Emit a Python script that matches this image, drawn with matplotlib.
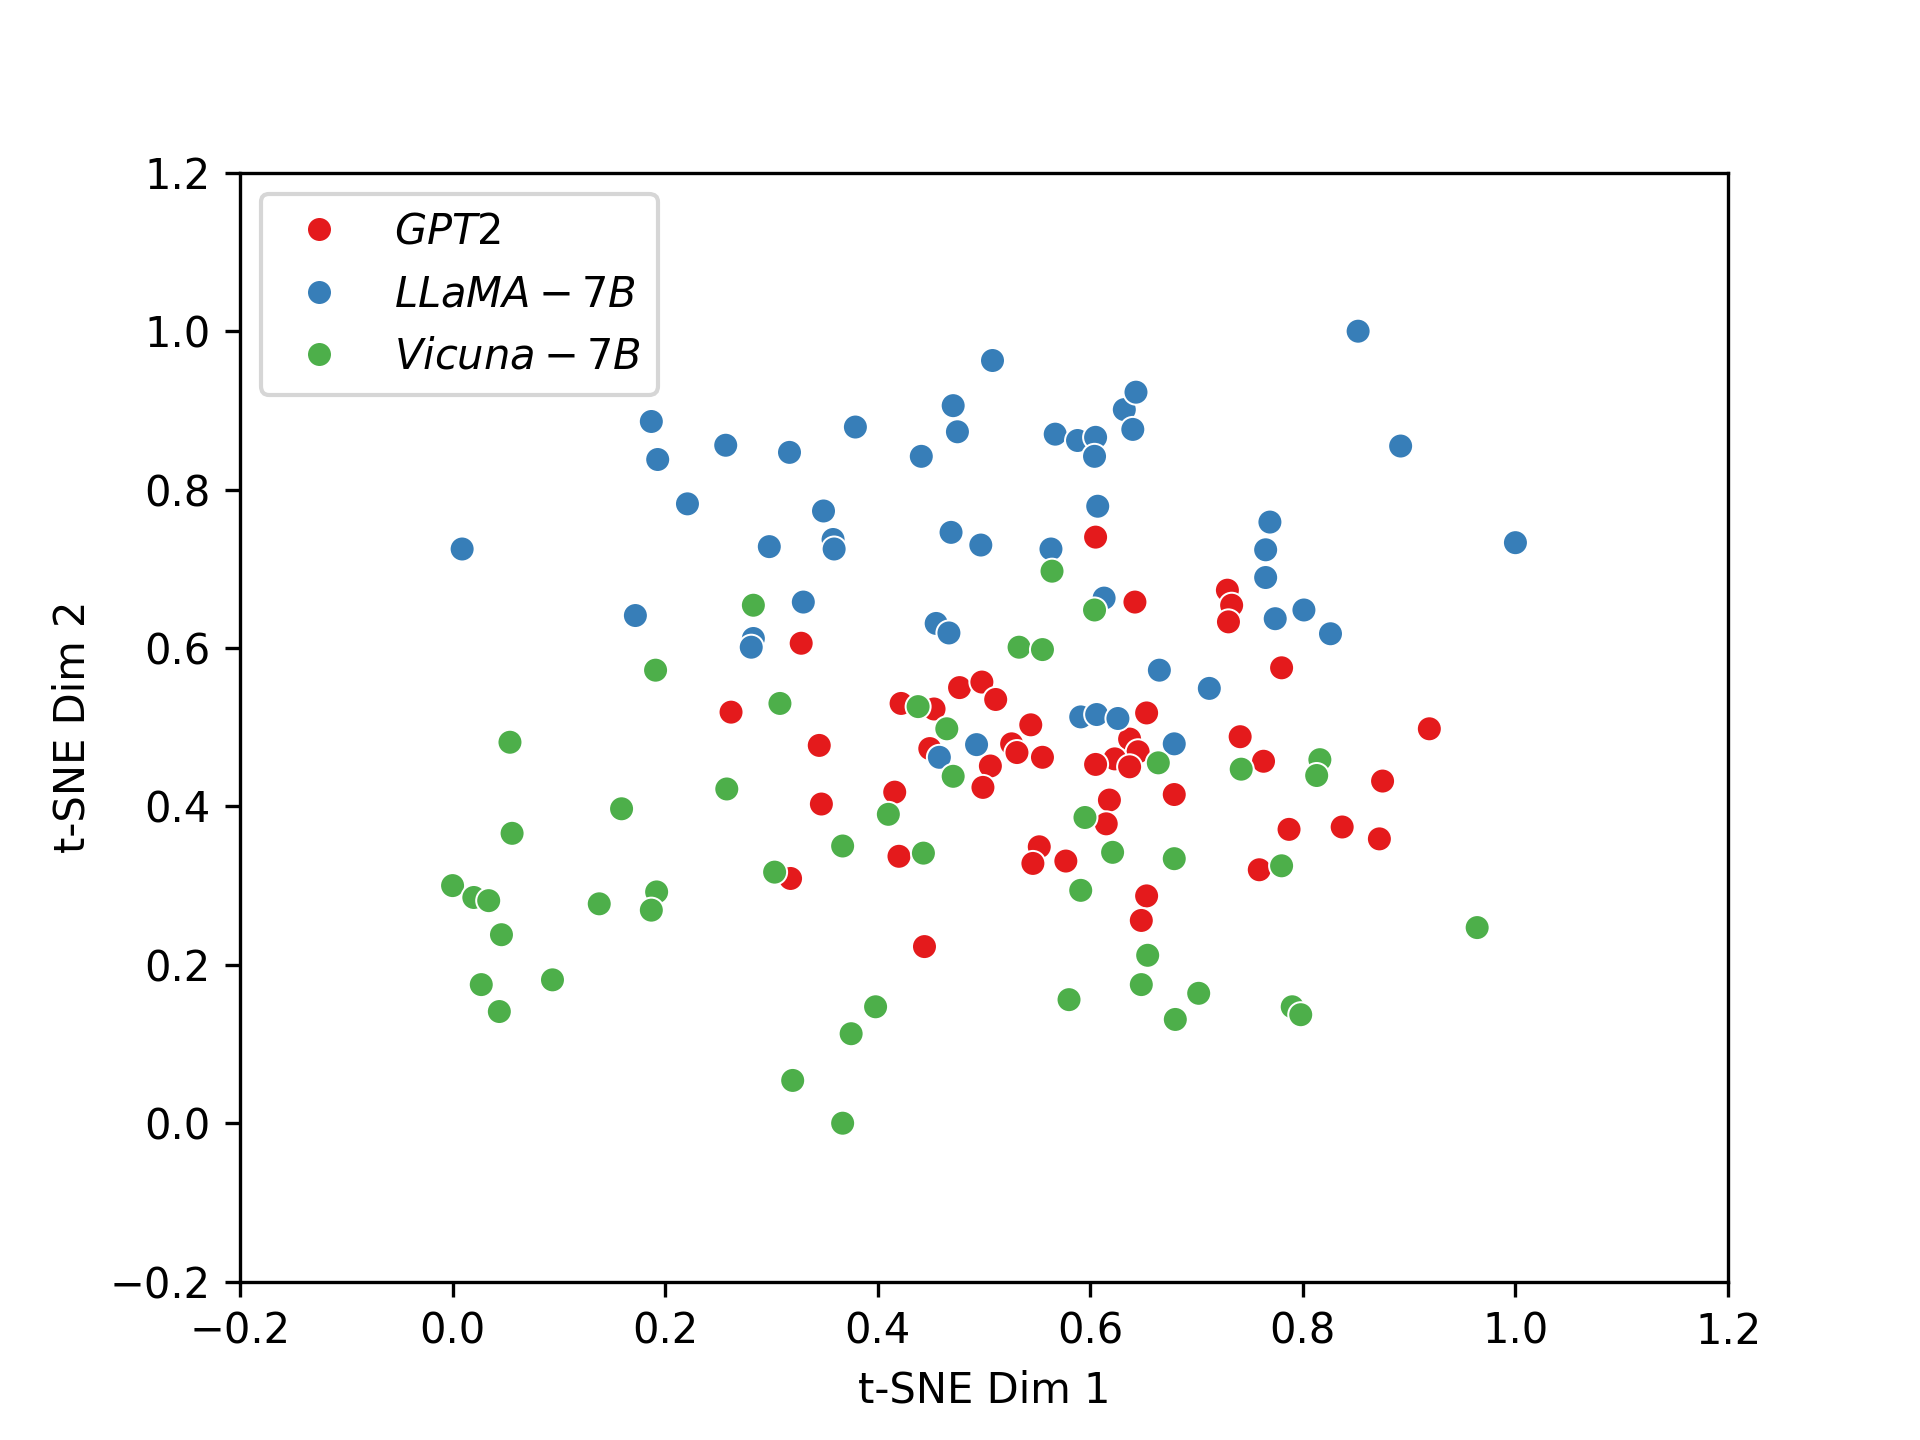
import numpy as np
import pandas as pd
import matplotlib
matplotlib.use("Agg")
import matplotlib.pyplot as plt
import seaborn as sns

# t-SNE 좌표 (0~1 정규화) - 그림에서 읽은 값
gpt2_x = [0.605, 0.642, 0.729, 0.733, 0.730, 0.780, 0.328, 0.262, 0.477, 0.498,
          0.511, 0.422, 0.453, 0.544, 0.653, 0.449, 0.526, 0.531, 0.555, 0.637,
          0.645, 0.623, 0.605, 0.637, 0.506, 0.499, 0.345, 0.347, 0.416, 0.679,
          0.618, 0.615, 0.741, 0.763, 0.919, 0.875, 0.787, 0.837, 0.872, 0.759,
          0.420, 0.318, 0.552, 0.546, 0.577, 0.653, 0.648, 0.444]
gpt2_y = [0.740, 0.658, 0.673, 0.654, 0.633, 0.575, 0.606, 0.519, 0.550, 0.557,
          0.535, 0.530, 0.523, 0.503, 0.518, 0.473, 0.479, 0.468, 0.462, 0.485,
          0.469, 0.460, 0.453, 0.450, 0.451, 0.424, 0.477, 0.403, 0.418, 0.415,
          0.408, 0.378, 0.488, 0.457, 0.498, 0.432, 0.371, 0.374, 0.359, 0.320,
          0.337, 0.309, 0.349, 0.328, 0.331, 0.287, 0.256, 0.223]

llama_x = [0.009, 0.172, 0.187, 0.193, 0.221, 0.257, 0.283, 0.281, 0.298, 0.317,
           0.330, 0.349, 0.358, 0.359, 0.379, 0.441, 0.469, 0.471, 0.475, 0.455,
           0.467, 0.497, 0.508, 0.493, 0.458, 0.563, 0.567, 0.588, 0.605, 0.604,
           0.632, 0.643, 0.640, 0.607, 0.613, 0.665, 0.591, 0.606, 0.626, 0.679,
           0.712, 0.769, 0.765, 0.765, 0.774, 0.801, 0.826, 0.852, 0.892, 1.000]
llama_y = [0.725, 0.641, 0.886, 0.838, 0.782, 0.856, 0.612, 0.601, 0.728, 0.847,
           0.658, 0.773, 0.737, 0.725, 0.879, 0.842, 0.746, 0.906, 0.873, 0.631,
           0.619, 0.730, 0.963, 0.478, 0.462, 0.725, 0.870, 0.862, 0.866, 0.842,
           0.901, 0.923, 0.876, 0.779, 0.663, 0.572, 0.513, 0.516, 0.511, 0.479,
           0.549, 0.759, 0.724, 0.689, 0.637, 0.648, 0.618, 1.000, 0.855, 0.733]

vicuna_x = [0.000, 0.020, 0.034, 0.027, 0.044, 0.046, 0.054, 0.056, 0.094, 0.138,
            0.159, 0.191, 0.192, 0.187, 0.258, 0.283, 0.308, 0.303, 0.320, 0.367,
            0.367, 0.375, 0.398, 0.410, 0.438, 0.443, 0.465, 0.471, 0.533, 0.555,
            0.564, 0.604, 0.595, 0.621, 0.591, 0.580, 0.664, 0.679, 0.654, 0.648,
            0.680, 0.702, 0.742, 0.780, 0.816, 0.813, 0.790, 0.798, 0.964]
vicuna_y = [0.300, 0.285, 0.281, 0.175, 0.141, 0.238, 0.481, 0.366, 0.181, 0.277,
            0.397, 0.572, 0.292, 0.269, 0.422, 0.654, 0.530, 0.317, 0.054, 0.000,
            0.350, 0.113, 0.147, 0.390, 0.526, 0.341, 0.498, 0.438, 0.601, 0.598,
            0.697, 0.648, 0.386, 0.342, 0.294, 0.156, 0.455, 0.334, 0.212, 0.175,
            0.131, 0.164, 0.447, 0.325, 0.459, 0.439, 0.147, 0.137, 0.247]

labels = ["$GPT2$", "$LLaMA-7B$", "$Vicuna-7B$"]

df = pd.DataFrame({
    "x": gpt2_x + llama_x + vicuna_x,
    "y": gpt2_y + llama_y + vicuna_y,
    "model": [labels[0]] * len(gpt2_x) + [labels[1]] * len(llama_x) + [labels[2]] * len(vicuna_x),
})

fig = plt.figure(figsize=(6.4, 4.8), dpi=300)
ax = fig.add_subplot(1, 1, 1)

sns.scatterplot(data=df, x="x", y="y", hue="model", hue_order=labels,
                palette="Set1", ax=ax)

ax.set_xlim(-0.2, 1.2)
ax.set_ylim(-0.2, 1.2)
ax.set_xlabel("t-SNE Dim 1")
ax.set_ylabel("t-SNE Dim 2")
ax.legend(loc="upper left")

plt.savefig("out.png", dpi=300)
